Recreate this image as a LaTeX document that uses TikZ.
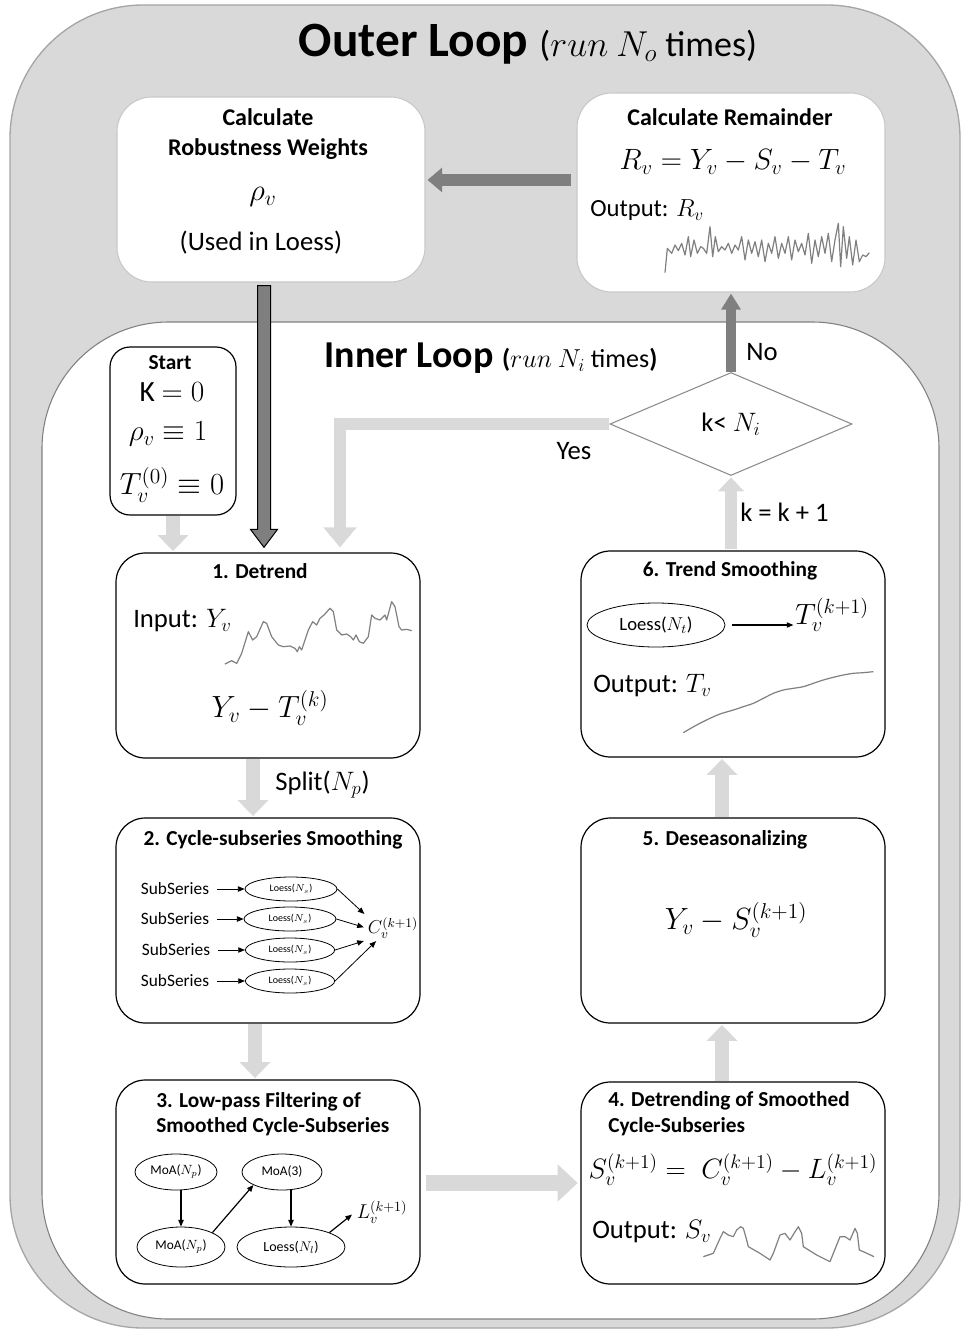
\IfFileExists{fix-cm.sty}{\RequirePackage{fix-cm}}{}
\documentclass[tikz,border=0pt]{standalone}
\usepackage[no-math]{fontspec}
\setmainfont{Carlito}
\usetikzlibrary{arrows.meta,shapes.geometric,calc}
\definecolor{outerfill}{HTML}{D9D9D9}
\definecolor{outerline}{HTML}{A6A6A6}
\definecolor{innerline}{HTML}{808080}
\definecolor{lgray}{HTML}{D9D9D9}
\definecolor{dgray}{HTML}{7F7F7F}
\definecolor{bgray}{HTML}{C8C8C8}
\definecolor{cgray}{HTML}{808080}
\definecolor{dmline}{HTML}{8C8C8C}
\newcommand{\fs}[1]{\fontsize{#1}{#1}\selectfont}
\newcommand{\fsb}[2]{\fontsize{#1}{#2}\selectfont}
\begin{document}
\begin{tikzpicture}[x=0.75pt,y=-0.75pt,
  box/.style={draw=black, line width=0.9pt, fill=white, rounded corners=22pt, inner sep=0pt, minimum width=228pt},
  topbox/.style={draw=bgray, line width=0.8pt, fill=white, rounded corners=26pt, inner sep=0pt, minimum width=231pt},
  txt/.style={inner sep=0pt, font=\fs{20}},
  ttl/.style={inner sep=0pt, font=\bfseries\fs{16}},
  ell/.style={draw=black, ellipse, line width=0.6pt, inner sep=0pt},
  sarrow/.style={draw=black, line width=0.6pt, -{Triangle[length=5pt,width=4pt]}},
  larrow/.style={draw=lgray, line width=10.5pt, -{Triangle[length=12pt,width=22.5pt]}},
  darrow/.style={draw=dgray, line width=9pt, -{Triangle[length=11pt,width=18pt]}},
  curve/.style={draw=cgray, line width=0.9pt, line join=round},
]
\useasboundingbox (0,0) rectangle (964,1331);
% backgrounds
\draw[fill=outerfill, draw=outerline, line width=1pt, rounded corners=100pt] (10,5) rectangle (960,1328);
\draw[fill=white, draw=innerline, line width=0.8pt, rounded corners=95pt] (42,322) rectangle (939,1319);

\node[inner sep=0pt] (otitle) at (528,44) {\bfseries\fs{37}Outer Loop \mdseries\fs{27}($run\ N_o$ times)};
\node[inner sep=0pt] (ititle) at (491,358) {\bfseries\fs{28.5}Inner Loop \fs{19.5}(\mdseries$run\ N_i$ times\bfseries)};

% top boxes
\node[topbox, minimum height=138.75pt] (w) at (271,189.5) {};
\node[ttl, font=\bfseries\fsb{18}{22.5}, align=center] (wt) at (268,134) {Calculate\\Robustness Weights};
\node[txt, font=\fs{23}] (rho) at (263,197) {$\rho_v$};
\node[txt] (used) at (261,243) {(Used in Loess)};

\node[topbox, minimum height=149.25pt] (r) at (731,192.5) {};
\node[ttl, font=\bfseries\fs{18}] (rt) at (730,117) {Calculate Remainder};
\node[txt, font=\fs{22}] (req) at (733,162) {$R_v = Y_v - S_v - T_v$};
\node[txt, font=\fs{18.5}, anchor=west] (rout) at (590,210) {Output: $R_v$};
\begin{scope}[shift={(570,80)}, scale=1/3]
\draw[curve] plot coordinates {(285,578) (292,505) (305,520) (315,495) (325,512) (335,490) (345,525) (355,470) (362,530) (372,480) (382,520) (392,500) (400,505) (410,520) (420,440) (428,530) (436,470) (445,515) (455,500) (465,510) (475,490) (485,520) (495,495) (505,510) (515,470) (525,540) (535,480) (545,520) (555,485) (565,530) (575,480) (585,545) (595,490) (605,520) (615,470) (625,535) (635,490) (645,520) (655,470) (665,540) (675,480) (685,515) (695,490) (705,525) (715,460) (725,550) (735,480) (745,530) (755,470) (765,520) (775,460) (785,545) (795,480) (805,430) (812,560) (820,440) (830,535) (838,470) (848,555) (858,480) (868,545) (878,525) (888,530) (898,518)};
\end{scope}

% start box
\node[box, rounded corners=15pt, minimum width=94.5pt, minimum height=126pt] (st) at (173,431) {};
\node[ttl] (stt) at (170,363) {Start};
\node[txt, font=\fs{22}] (k0) at (172,392) {K $= 0$};
\node[txt, font=\fs{22}] (r1) at (168,434) {$\rho_v \equiv 1$};
\node[txt, font=\fs{23}] (t0) at (172,485) {$T_v^{(0)} \equiv 0$};

% box 1
\node[box, minimum height=153.75pt] (b1) at (268,655.5) {};
\node[ttl] (b1t) at (260,571) {1. Detrend};
\node[txt, anchor=west] (b1in) at (133,621) {Input: $Y_v$};
\node[txt, font=\fs{23}] (b1eq) at (270,708) {$Y_v - T_v^{(k)}$};
\begin{scope}[shift={(100,540)}, scale=1/3]
\draw[curve] plot coordinates {(375,372) (395,362) (410,370) (425,340) (445,275) (458,300) (470,290) (490,245) (500,250) (515,290) (535,315) (550,320) (570,318) (585,325) (592,335) (598,320) (605,330) (615,300) (625,270) (638,245) (650,255) (660,235) (672,225) (690,205) (700,215) (710,270) (725,285) (740,282) (752,290) (760,300) (768,285) (778,305) (790,310) (805,290) (815,225) (825,235) (840,240) (855,225) (860,240) (875,185) (885,200) (897,260) (905,270) (920,268) (935,272)};
\end{scope}

% box 2
\node[box, minimum height=153.75pt] (b2) at (268,920.5) {};
\node[ttl] (b2t) at (273,840) {2. Cycle-subseries Smoothing};
\node[inner sep=1pt, font=\fs{13}] (s1) at (175,889) {SubSeries};
\node[inner sep=1pt, font=\fs{13}] (s2) at (175,919) {SubSeries};
\node[inner sep=1pt, font=\fs{13}] (s3) at (176,950) {SubSeries};
\node[inner sep=1pt, font=\fs{13}] (s4) at (175,981) {SubSeries};
\node[ell, minimum width=69pt, minimum height=18pt, font=\fs{7.5}] (e1) at (291,889) {Loess($N_s$)};
\node[ell, minimum width=69pt, minimum height=18pt, font=\fs{7.5}] (e2) at (290,919) {Loess($N_s$)};
\node[ell, minimum width=67pt, minimum height=18pt, font=\fs{7.5}] (e3) at (290,950) {Loess($N_s$)};
\node[ell, minimum width=67pt, minimum height=18pt, font=\fs{7.5}] (e4) at (290,981) {Loess($N_s$)};
\node[inner sep=1pt, font=\fs{14}] (cc) at (393,928) {$C_v^{(k+1)}$};
\foreach \i in {1,2,3,4} {\draw[sarrow, shorten <=5pt] (s\i.east) -- (e\i.west);}
\draw[sarrow, shorten >=2pt] (e1.east) -- (cc.north west);
\draw[sarrow, shorten >=2pt] (e2.east) -- (cc.west);
\draw[sarrow, shorten >=2pt] (e3.east) -- (cc.south west);
\draw[sarrow, shorten >=1pt] (e4.east) -- ([xshift=8pt]cc.south west);

% box 3
\node[box, minimum height=153pt] (b3) at (268,1182) {};
\node[ttl, anchor=west, align=left, font=\bfseries\fsb{16}{19}] (b3t) at (156,1114.5) {3. Low-pass Filtering of\\Smoothed Cycle-Subseries};
\node[ell, minimum width=61.5pt, minimum height=27pt, font=\fs{10}] (m1) at (176,1172) {MoA($N_p$)};
\node[ell, minimum width=60pt, minimum height=27pt, font=\fs{10}] (m2) at (282,1172) {MoA(3)};
\node[ell, minimum width=66pt, minimum height=30pt, font=\fs{10}] (m3) at (181,1247) {MoA($N_p$)};
\node[ell, minimum width=81pt, minimum height=30pt, font=\fs{10.5}] (m4) at (291,1247) {Loess($N_l$)};
\node[inner sep=1pt, font=\fs{15}] (ll) at (382,1212) {$L_v^{(k+1)}$};
\draw[sarrow, line width=0.9pt] (m1.south -| m3.north) -- (m3.north);
\draw[sarrow, line width=0.9pt] (m3.north east) -- (m2.south west);
\draw[sarrow, line width=0.9pt] (m4.north |- m2.south) -- (m4.north);
\draw[sarrow, line width=0.9pt, shorten >=3pt] (m4.north east) -- (ll.west);

% box 4
\node[box, minimum height=151.5pt] (b4) at (733,1183) {};
\node[ttl, anchor=west, align=left, font=\bfseries\fsb{16}{19.5}] (b4t) at (608,1114) {4. Detrending of Smoothed\\Cycle-Subseries};
\node[txt, font=\fs{21}] (seq) at (733,1170) {$S_v^{(k+1)} = \; C_v^{(k+1)} - L_v^{(k+1)}$};
\node[txt, anchor=west] (b4out) at (592,1232) {Output: $S_v$};
\begin{scope}[shift={(570,1080)}, scale=1/3]
\draw[curve] plot coordinates {(400,530) (430,520) (450,475) (460,455) (475,465) (490,470) (500,450) (512,440) (520,445) (530,480) (535,500) (570,520) (600,540) (610,520) (630,465) (645,460) (660,480) (672,460) (685,440) (695,460) (700,500) (740,525) (780,545) (790,520) (810,470) (825,470) (840,480) (855,445) (862,460) (868,510) (880,515) (912,530)};
\end{scope}

% box 5
\node[box, minimum height=153.75pt] (b5) at (733,920.5) {};
\node[ttl] (b5t) at (725,840) {5. Deseasonalizing};
\node[txt, font=\fs{23}] (b5eq) at (736,920) {$Y_v - S_v^{(k+1)}$};

% box 6
\node[box, minimum height=154.5pt] (b6) at (733,654) {};
\node[ttl] (b6t) at (730,571) {6. Trend Smoothing};
\node[ell, minimum width=103.5pt, minimum height=33pt, font=\fs{14}] (lt) at (656,625) {Loess($N_t$)};
\node[inner sep=1pt, font=\fs{22}] (tt) at (832,615) {$T_v^{(k+1)}$};
\draw[sarrow, line width=0.8pt, shorten <=5pt] (lt.east) -- (tt.west |- lt.east);
\node[txt, anchor=west] (b6out) at (593,686) {Output: $T_v$};
\begin{scope}[shift={(570,540)}, scale=1/3]
\draw[curve] plot[smooth, tension=0.5] coordinates {(340,578) (380,555) (420,535) (450,522) (490,510) (520,500) (550,490) (580,475) (610,460) (640,450) (670,445) (700,440) (730,430) (760,420) (790,412) (820,405) (850,400) (880,398) (910,395)};
\end{scope}

% diamond
\node[diamond, draw=dmline, line width=0.8pt, fill=white, minimum width=181.5pt, minimum height=77.25pt, inner sep=0pt, font=\fs{20}] (dm) at (731,424) {k< $N_i$};

% labels
\node[txt, anchor=west] (nolbl) at (746,352) {No};
\node[txt] (yeslbl) at (574,451) {Yes};
\node[txt, anchor=west] (klbl) at (740,512) {k = k + 1};
\node[txt, anchor=west] (split) at (275,785) {Split($N_p$)};

% connectors
\coordinate (ra) at ([yshift=9.4pt]r.west);
\draw[darrow, shorten <=3.75pt, shorten >=1.5pt] (ra) -- (ra -| w.east);
\coordinate (dx) at (264,0);
\coordinate (wa) at (w.south -| dx);
\coordinate (wb) at (b1.north -| dx);
\filldraw[fill=dgray, draw=black, line width=0.75pt] ($(wa)+(-6.5,3)$) -- ($(wb)+(-6.5,-23)$) -- ($(wb)+(-13.5,-23)$) -- ($(wb)+(0,-5)$) -- ($(wb)+(13.5,-23)$) -- ($(wb)+(6.5,-23)$) -- ($(wa)+(6.5,3)$) -- cycle;
\draw[larrow, shorten >=1pt] (st.south) -- (st.south |- b1.north);
\draw[larrow, line width=9pt, -{Triangle[length=15pt,width=24pt]}, shorten >=3.75pt] (dm.west) -| ([xshift=54pt]b1.north);
\draw[darrow, line width=7.5pt, -{Triangle[length=12pt,width=14pt]}, shorten >=0.75pt] (dm.north) -- (r.south);
\draw[larrow, line width=9pt, -{Triangle[length=10.5pt,width=19pt]}, shorten <=1pt, shorten >=1pt] (b6.north -| dm.south) -- (dm.south);
\draw[larrow, shorten >=1pt] ([xshift=-11.25pt]b1.south) -- ([xshift=-11.25pt]b2.north);
\draw[larrow, shorten >=1pt] ([xshift=-9.75pt]b2.south) -- ([xshift=-9.75pt]b3.north);
\draw[larrow, line width=12pt, -{Triangle[length=15pt,width=27pt]}, shorten <=3.75pt, shorten >=2pt] (b3.east |- b4.west) -- (b4.west);
\draw[larrow, shorten >=1pt] ([xshift=-8.25pt]b4.north) -- ([xshift=-8.25pt]b5.south);
\draw[larrow, shorten >=1pt] ([xshift=-8.25pt]b5.north) -- ([xshift=-8.25pt]b6.south);
\end{tikzpicture}
\end{document}
